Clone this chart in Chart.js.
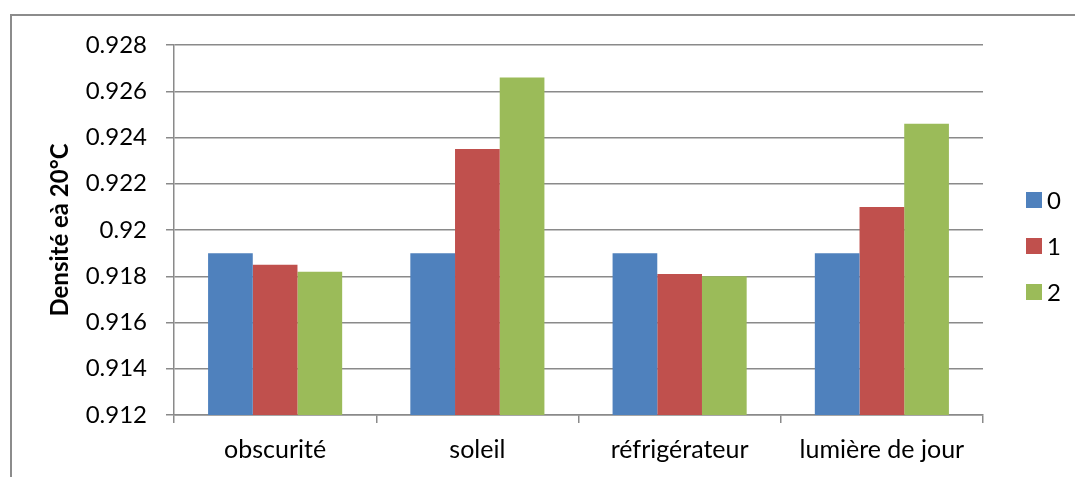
<!DOCTYPE html>
<html>
<head>
<meta charset="utf-8">
<script src="https://cdn.jsdelivr.net/npm/chart.js@4/dist/chart.umd.min.js"></script>
<style>
  html, body { margin: 0; padding: 0; background: #fff; }
  canvas { display: block; }
</style>
</head>
<body>
<canvas id="c" width="1075" height="477"></canvas>
<script>
// Conditions de conservation
const categories = ['obscurité', 'soleil', 'réfrigérateur', 'lumière de jour'];
// Séries (jour de mesure)
const seriesNames = ['0', '1', '2'];
const serie0 = [0.9190, 0.9190, 0.9190, 0.9190];
const serie1 = [0.9185, 0.9235, 0.9181, 0.9210];
const serie2 = [0.9182, 0.9266, 0.9180, 0.9246];
const yTicks = [0.912, 0.914, 0.916, 0.918, 0.920, 0.922, 0.924, 0.926, 0.928];
const yTitle = 'Densité eà 20°C';

const colors = ['#4F81BD', '#C0504D', '#9BBB59'];
const FONT = 'Lato, "Open Sans", sans-serif';
const gridColor = '#8a8a8a';

// Cadre gris autour du graphique
const framePlugin = {
  id: 'frame',
  beforeDraw(chart) {
    const ctx = chart.ctx;
    ctx.save();
    ctx.strokeStyle = '#8c8c8c';
    ctx.lineWidth = 2;
    ctx.beginPath();
    ctx.moveTo(11, chart.height + 5);
    ctx.lineTo(11, 15);
    ctx.lineTo(chart.width + 5, 15);
    ctx.stroke();
    ctx.restore();
  }
};

// Légende à droite, carrés de couleur + nom de série
const legendPlugin = {
  id: 'sideLegend',
  afterDraw(chart) {
    const ctx = chart.ctx;
    const x0 = 1026, yCenter = 246, step = 46, box = 16;
    const n = chart.data.datasets.length;
    ctx.save();
    ctx.font = '24px ' + FONT;
    ctx.textBaseline = 'middle';
    ctx.textAlign = 'left';
    chart.data.datasets.forEach((ds, i) => {
      const y = yCenter + (i - (n - 1) / 2) * step;
      ctx.fillStyle = ds.backgroundColor;
      ctx.fillRect(x0, y - box / 2, box, box);
      ctx.fillStyle = '#000';
      ctx.fillText(ds.label, x0 + box + 5, y + 1);
    });
    ctx.restore();
  }
};

const seriesValues = [serie0, serie1, serie2];

new Chart(document.getElementById('c'), {
  type: 'bar',
  data: {
    labels: categories,
    datasets: seriesNames.map((name, i) => ({
      label: name,
      data: seriesValues[i],
      backgroundColor: colors[i],
      borderWidth: 0,
      categoryPercentage: 0.663,
      barPercentage: 1.0
    }))
  },
  options: {
    responsive: false,
    animation: false,
    layout: { padding: { top: 45, right: 92, bottom: 0, left: 0 } },
    plugins: {
      legend: { display: false },
      tooltip: { enabled: false }
    },
    scales: {
      x: {
        offset: true,
        grid: {
          offset: true,
          drawOnChartArea: false,
          drawTicks: true,
          tickLength: 8,
          color: gridColor,
          lineWidth: 1.5
        },
        border: { display: true, color: gridColor, width: 1.5 },
        ticks: {
          color: '#000',
          padding: 12,
          font: { family: FONT, size: 25 }
        },
        afterFit(scale) { scale.height = 62; }
      },
      y: {
        min: yTicks[0],
        max: yTicks[yTicks.length - 1],
        afterBuildTicks(scale) {
          scale.ticks = yTicks.map(v => ({ value: v }));
        },
        grid: {
          color: gridColor,
          lineWidth: 1.5,
          drawTicks: true,
          tickLength: 8
        },
        border: { display: true, color: gridColor, width: 1.5 },
        ticks: {
          color: '#000',
          padding: 19,
          font: { family: FONT, size: 24 }
        ,
          callback: v => String(+Number(v).toFixed(3))
        },
        title: {
          display: true,
          text: yTitle,
          color: '#000',
          font: { family: FONT, size: 24, weight: 'bold' },
          padding: { top: 46, bottom: 0 }
        },
        afterFit(scale) { scale.width = 174; }
      }
    }
  },
  plugins: [framePlugin, legendPlugin]
});
</script>
</body>
</html>
